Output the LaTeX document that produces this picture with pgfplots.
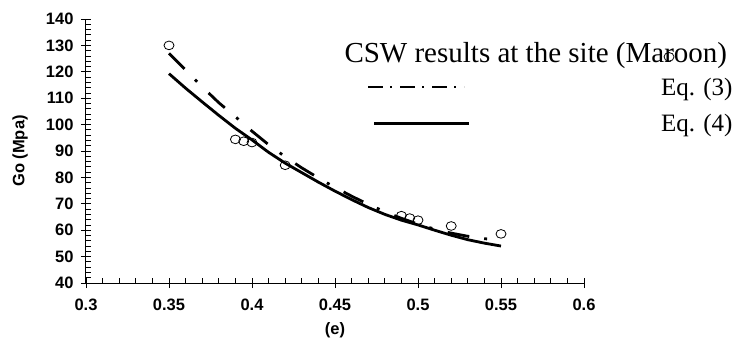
\documentclass[border=0pt]{standalone}
\usepackage{fontspec}
\setmainfont{Liberation Serif}
\newfontfamily\arialbf{Liberation Sans Bold}
\usepackage{pgfplots}
\pgfplotsset{compat=1.18}
\newcommand\lblfont{\arialbf\fontsize{16.5}{19}\selectfont}
\begin{document}
\begin{tikzpicture}
\path[use as bounding box] (0,0) rectangle (746pt,338pt);
\begin{axis}[
  at={(86pt,55pt)}, anchor=south west,
  scale only axis, width=498pt, height=264pt,
  xmin=0.3, xmax=0.6, ymin=40, ymax=140,
  axis lines*=left,
  axis line style={line width=1pt},
  xtick={0.3,0.35,0.4,0.45,0.5,0.55,0.6},
  xticklabels={0.3,0.35,0.4,0.45,0.5,0.55,0.6},
  ytick={40,50,60,70,80,90,100,110,120,130,140},
  yticklabels={40,50,60,70,80,90,100,110,120,130,140},
  minor x tick num=4, minor y tick num=4,
  tick align=center,
  major tick length=10pt, minor tick length=5pt,
  minor x tick style={yshift=2.5pt}, minor y tick style={xshift=2.5pt},
  tick style={black, line width=0.8pt},
  xticklabel style={font=\lblfont, yshift=-7pt},
  yticklabel style={font=\lblfont, xshift=-4pt},
  xlabel={(e)}, ylabel={Go (Mpa)},
  every axis x label/.style={at={(axis description cs:0.5,-0.178)}, anchor=center, font=\lblfont},
  every axis y label/.style={at={(axis description cs:-0.1325,0.5)}, anchor=center, rotate=90, font=\lblfont},
  legend cell align=left,
  legend style={at={(0.5643,0.9144)}, anchor=north west, draw=none, fill=none,
    inner sep=0pt, outer sep=0pt, row sep=17.75pt, column sep=12pt,
    nodes={inner sep=0pt, font=\fontsize{25}{30}\selectfont}},
]
\addplot[only marks, mark=o, mark size=5pt, mark options={line width=0.8pt, yscale=0.87},
  legend image code/.code={\draw[overlay, line width=0.8pt] (301pt,-6pt) ellipse [x radius=5pt, y radius=4.35pt];}]
  coordinates {(0.35,130) (0.39,94.4) (0.395,93.7) (0.40,93.2) (0.42,84.6)
    (0.49,65.5) (0.495,64.6) (0.50,63.8) (0.52,61.6) (0.55,58.6)};
\addlegendentry{\hspace*{-138pt}\raisebox{-4pt}[17pt][4pt]{\fontsize{29}{34}\selectfont CSW results at the site (Maroon)}}
\addplot[line width=2.8pt, dash pattern=on 22pt off 15pt on 3pt off 16pt,
  legend image code/.code={\draw[line width=2pt, dash pattern=on 15pt off 7pt on 2pt off 8pt] (0pt,0pt) -- (96pt,0pt);}]
  table {
x y
0.350 127
0.360 120.7
0.370 114.3
0.380 108.3
0.390 103
0.400 97.5
0.410 92.4
0.420 87.8
0.430 83.6
0.440 79.8
0.450 76.2
0.460 72.9
0.470 69.8
0.480 67.0
0.490 64.5
0.500 62.3
0.510 60.4
0.520 58.9
0.530 57.7
0.540 56.8
0.550 56.1
};
\addlegendentry{\makebox[250pt][r]{Eq. (3)}}
\addplot[line width=2.8pt,
  legend image code/.code={\draw[line width=3pt] (6pt,0pt) -- (101pt,0pt);}]
  table {
x y
0.350 119.3
0.360 113.8
0.370 108.6
0.380 103.5
0.390 98.6
0.400 94.2
0.410 89.5
0.420 85.4
0.430 81.8
0.440 78.2
0.450 74.8
0.460 71.6
0.470 68.6
0.480 66.0
0.490 63.8
0.500 62.0
0.510 60.0
0.520 58.1
0.530 56.4
0.540 55.1
0.550 54.0
};
\addlegendentry{\makebox[250pt][r]{Eq. (4)}}
\end{axis}
\end{tikzpicture}
\end{document}
